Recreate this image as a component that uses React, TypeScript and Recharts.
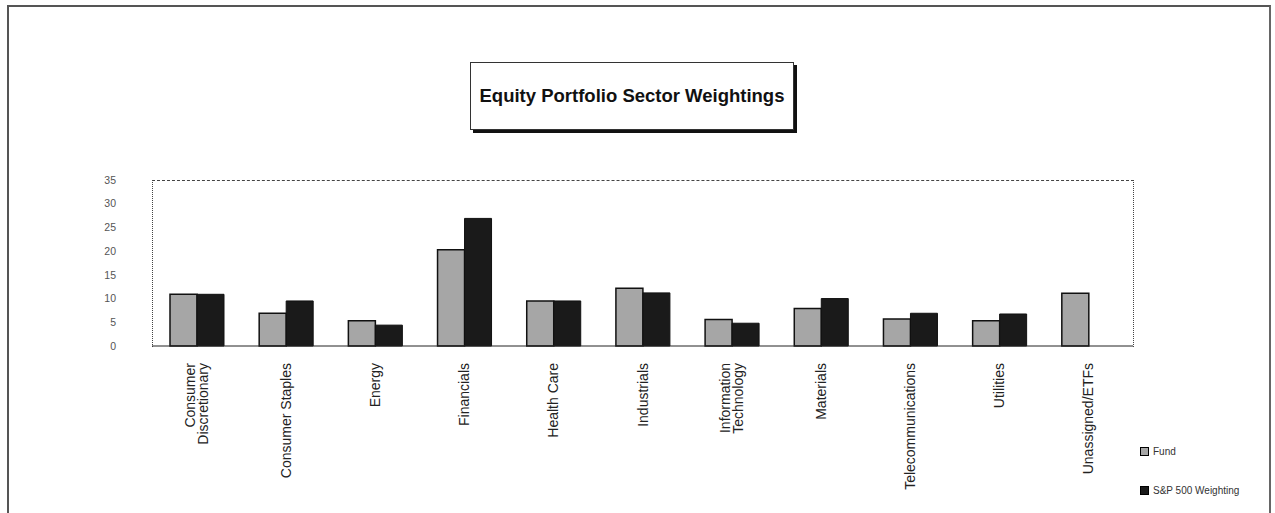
import React from "react";
import {
  BarChart,
  Bar,
  XAxis,
  YAxis,
  Legend,
} from "recharts";

// Sektoren und Gewichtungen (in %)
const sectors = [
  "Consumer Discretionary",
  "Consumer Staples",
  "Energy",
  "Financials",
  "Health Care",
  "Industrials",
  "Information Technology",
  "Materials",
  "Telecommunications",
  "Utilities",
  "Unassigned/ETFs",
];
const fundWeights = [10.9, 6.9, 5.3, 20.3, 9.5, 12.2, 5.6, 7.9, 5.7, 5.3, 11.1];
const indexWeights = [10.9, 9.5, 4.4, 26.9, 9.5, 11.2, 4.8, 10.0, 6.9, 6.75, 0];
const yTicks = [0, 5, 10, 15, 20, 25, 30, 35];

const seriesNames = { fund: "Fund", index: "S&P 500 Weighting" };
const FONT = "'Liberation Sans', Arial, sans-serif";

const data = sectors.map((name, i) => ({
  name,
  fund: fundWeights[i],
  index: indexWeights[i],
}));

// zweizeilige Labels um den Tick zentrieren
const splitLabel = (s: string): string[] => {
  if (s === "Consumer Discretionary") return ["Consumer", "Discretionary"];
  if (s === "Information Technology") return ["Information", "Technology"];
  return [s];
};

function SectorTick(props: any) {
  const { x, y, payload } = props;
  const lines = splitLabel(payload.value);
  const lh = 13;
  const start = -((lines.length - 1) * lh) / 2;
  return (
    <g transform={`translate(${x + 5},${y + 9}) rotate(-90)`}>
      {lines.map((l, i) => (
        <text
          key={i}
          x={0}
          y={start + i * lh}
          textAnchor="end"
          fontSize={14}
          fontFamily={FONT}
          fill="#222"
        >
          {l}
        </text>
      ))}
    </g>
  );
}

function LegendBox(props: any) {
  const items = props.payload || [];
  return (
    <div style={{ fontFamily: FONT, fontSize: 10, color: "#333", width: 120 }}>
      {items.map((it: any, i: number) => (
        <div
          key={i}
          style={{ display: "flex", alignItems: "center", height: 14, marginBottom: i === 0 ? 25 : 0 }}
        >
          <span
            style={{
              display: "inline-block",
              width: 7,
              height: 7,
              background: it.color,
              border: "1px solid #000",
              marginRight: 4,
            }}
          />
          {it.value}
        </div>
      ))}
    </div>
  );
}

export default function App() {
  return (
    <div
      style={{
        position: "absolute",
        left: 0,
        top: 0,
        width: 1275,
        height: 513,
        background: "#fff",
        overflow: "hidden",
      }}
    >
      {/* Rahmen des Diagrammbereichs */}
      <div
        style={{
          position: "absolute",
          left: 7,
          top: 5,
          width: 1260,
          height: 520,
          borderLeft: "2px solid #555",
          borderTop: "2px solid #555",
          borderRight: "2px solid #666",
        }}
      />
      {/* Titelbox mit Schatten */}
      <div
        style={{
          position: "absolute",
          left: 470,
          top: 62,
          width: 322,
          height: 66,
          border: "1px solid #333",
          boxShadow: "3px 3px 0 #111",
          display: "flex",
          alignItems: "center",
          justifyContent: "center",
          fontFamily: FONT,
          fontWeight: "bold",
          fontSize: 18.5,
          color: "#111",
          background: "#fff",
        }}
      >
        Equity Portfolio Sector Weightings
      </div>
      {/* gepunkteter Plotrahmen */}
      <div
        style={{
          position: "absolute",
          left: 152,
          top: 180,
          width: 980,
          height: 166,
          borderTop: "1px dashed #444",
          borderRight: "1px dotted #444",
          borderLeft: "1px dotted #444",
          pointerEvents: "none",
        }}
      />
      <div style={{ position: "absolute", left: 0, top: 0 }}>
        <BarChart
          width={1275}
          height={513}
          data={data}
          margin={{ top: 180, right: 17, left: 112, bottom: 7 }}
          barGap={0}
          barSize={27}
        >
          <XAxis
            dataKey="name"
            interval={0}
            height={160}
            tick={<SectorTick />}
            tickLine={false}
            axisLine={{ stroke: "#222", strokeWidth: 1 }}
          />
          <YAxis
            width={40}
            domain={[0, 35]}
            ticks={yTicks}
            tickLine={false}
            axisLine={false}
            tickMargin={30}
            tick={{ fontSize: 10.5, fill: "#555", fontFamily: FONT }}
          />
          <Legend
            layout="vertical"
            verticalAlign="bottom"
            align="right"
            content={<LegendBox />}
            wrapperStyle={{ position: "absolute", left: 1140, top: 444, width: 125 }}
          />
          <Bar
            dataKey="fund"
            name={seriesNames.fund}
            fill="#a6a6a6"
            stroke="#111"
            strokeWidth={1.5}
            isAnimationActive={false}
          />
          <Bar
            dataKey="index"
            name={seriesNames.index}
            fill="#1a1a1a"
            stroke="#111"
            strokeWidth={1}
            isAnimationActive={false}
          />
        </BarChart>
      </div>
    </div>
  );
}
